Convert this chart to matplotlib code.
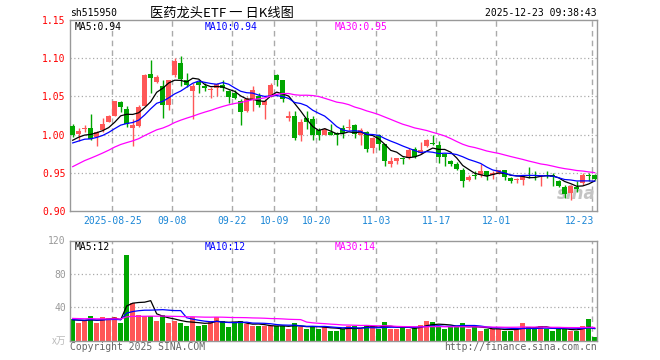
import numpy as np
import matplotlib.pyplot as plt

W, H = 660, 360

# --- data (one entry per trading day, 2025-08-14 .. 2025-12-23) ---
OPEN = [1.011, 1.001, 1.007, 1.008, 0.997, 1.006, 1.017, 1.024, 1.043, 1.034,
        1.008, 1.011, 1.037, 1.079, 1.069, 1.064, 1.039, 1.078, 1.094, 1.072,
        1.057, 1.069, 1.064, 1.058, 1.061, 1.065, 1.057, 1.055, 1.044, 1.031,
        1.045, 1.050, 1.039, 1.049, 1.078, 1.071, 1.022, 1.025, 1.000, 1.022,
        1.020, 1.006, 1.000, 1.004, 1.002, 1.008, 1.008, 1.013, 1.000, 1.004,
        0.983, 1.000, 0.988, 0.961, 0.966, 0.969, 0.969, 0.981, 0.976, 0.985,
        0.989, 0.987, 0.974, 0.966, 0.962, 0.954, 0.941, 0.947, 0.947, 0.952,
        0.947, 0.950, 0.954, 0.943, 0.940, 0.941, 0.947, 0.947, 0.946, 0.947,
        0.947, 0.939, 0.932, 0.923, 0.931, 0.937, 0.947, 0.947]
CLOSE = [1.000, 1.005, 1.009, 0.994, 1.004, 1.014, 1.025, 1.044, 1.036, 1.014,
         1.013, 1.036, 1.078, 1.074, 1.076, 1.039, 1.071, 1.096, 1.073, 1.065,
         1.064, 1.065, 1.061, 1.059, 1.066, 1.061, 1.049, 1.048, 1.029, 1.046,
         1.059, 1.039, 1.044, 1.065, 1.071, 1.047, 1.025, 0.995, 1.016, 1.017,
         1.000, 0.999, 1.007, 1.000, 0.999, 1.002, 1.010, 1.001, 1.006, 0.981,
         0.996, 0.988, 0.966, 0.966, 0.969, 0.968, 0.980, 0.971, 0.980, 0.993,
         0.988, 0.971, 0.971, 0.962, 0.955, 0.939, 0.945, 0.946, 0.952, 0.946,
         0.950, 0.954, 0.945, 0.939, 0.942, 0.946, 0.946, 0.946, 0.947, 0.946,
         0.945, 0.933, 0.922, 0.933, 0.929, 0.947, 0.946, 0.942]
HIGH = [1.014, 1.008, 1.013, 1.027, 1.005, 1.022, 1.026, 1.044, 1.044, 1.038,
        1.021, 1.039, 1.079, 1.097, 1.078, 1.071, 1.072, 1.100, 1.103, 1.080,
        1.067, 1.072, 1.068, 1.062, 1.068, 1.072, 1.059, 1.058, 1.046, 1.049,
        1.064, 1.054, 1.046, 1.067, 1.079, 1.072, 1.031, 1.031, 1.020, 1.031,
        1.024, 1.009, 1.009, 1.014, 1.003, 1.013, 1.020, 1.014, 1.008, 1.005,
        0.997, 1.001, 0.988, 0.971, 0.970, 0.971, 0.982, 0.984, 0.990, 0.994,
        1.000, 0.991, 0.976, 0.967, 0.964, 0.956, 0.947, 0.953, 0.961, 0.952,
        0.952, 0.954, 0.954, 0.944, 0.943, 0.947, 0.958, 0.952, 0.947, 0.953,
        0.950, 0.941, 0.934, 0.934, 0.939, 0.950, 0.950, 0.949]
LOW = [0.997, 0.992, 1.004, 0.993, 0.985, 1.003, 1.016, 1.024, 1.030, 1.010,
       0.985, 1.010, 1.037, 1.055, 1.068, 1.022, 1.032, 1.076, 1.064, 1.062,
       1.021, 1.054, 1.057, 1.048, 1.050, 1.057, 1.042, 1.046, 1.013, 1.029,
       1.031, 1.036, 1.020, 1.049, 1.064, 1.043, 1.018, 0.993, 0.992, 1.007,
       0.993, 0.993, 0.999, 0.999, 0.987, 0.995, 1.006, 0.996, 0.987, 0.977,
       0.976, 0.980, 0.959, 0.958, 0.962, 0.962, 0.968, 0.970, 0.975, 0.984,
       0.986, 0.963, 0.959, 0.959, 0.954, 0.932, 0.939, 0.942, 0.945, 0.940,
       0.942, 0.949, 0.940, 0.936, 0.936, 0.934, 0.943, 0.941, 0.933, 0.943,
       0.933, 0.932, 0.917, 0.915, 0.925, 0.934, 0.939, 0.941]
VOLUME = [25.6, 21, 24, 29.6, 21, 28, 27, 28, 21, 103,
          45, 31, 30, 30, 24, 31, 21, 23, 21, 17,
          28, 18, 19, 23, 28, 23, 16, 21, 24, 20,
          17, 17, 17, 18, 18, 18, 14, 21, 16, 14,
          18, 14, 18, 12, 12, 13.6, 17, 17, 13.6, 19,
          17, 14, 22, 13.6, 13.6, 16, 14, 16, 19, 24,
          22, 17, 14, 16, 17, 21, 14, 16, 12, 14,
          14, 14, 12, 12, 14, 21, 16, 14, 17, 14,
          12, 14, 14, 12, 12, 18, 26, 4]

# days before the window, only used to start the moving averages (estimated from the MA curves)
PRE_CLOSE = [0.885, 0.890, 0.900, 0.905, 0.910, 0.915, 0.920, 0.935, 0.940, 0.945,
             0.950, 0.955, 0.960, 0.965, 0.970, 0.975, 0.975, 0.980, 0.985, 0.990,
             0.980, 0.985, 0.990, 0.985, 0.988, 0.985, 0.995, 0.990, 0.993]
PRE_VOLUME = [27, 29, 26, 28, 30, 27, 25, 28, 27, 26, 29, 28, 26, 27, 25,
              28, 27, 26, 28, 27, 25, 26, 24, 25, 26, 24, 26, 25, 24]

TICK_IDX = [7, 17, 27, 34, 41, 51, 61, 71, 87]
TICK_LABELS = ['2025-08-25', '09-08', '09-22', '10-09', '10-20', '11-03', '11-17', '12-01', '12-23']
PRICE_TICKS = [0.90, 0.95, 1.00, 1.05, 1.10, 1.15]
VOL_TICKS = [40, 80, 120]
VOL_MA_LABELS = [12, 12, 14]

RED = '#ff5757'
GREEN = '#00a600'
GRID = '#aaaaaa'
MONO = 'DejaVu Sans Mono'
MA_COLORS = ['black', '#0000ff', '#ff00ff']


def moving_avg(pre, vals, n):
    full = np.array(pre + vals, dtype=float)
    out = np.convolve(full, np.ones(n) / n, mode='valid')
    return out[-len(vals):]


x = np.arange(len(CLOSE))
o = np.array(OPEN)
c = np.array(CLOSE)
up = c >= o
colors = [RED if u else GREEN for u in up]

fig = plt.figure(figsize=(W / 100, H / 100), dpi=100)
ax1 = fig.add_axes([70 / W, 1 - 211 / H, 527 / W, 191 / H])
ax2 = fig.add_axes([70 / W, 1 - 340.5 / H, 527 / W, 100 / H])

for ax in (ax1, ax2):
    ax.set_xlim(-0.45, 87.38)
    for s in ax.spines.values():
        s.set_color('#999999')
        s.set_linewidth(1)
    ax.tick_params(length=0, pad=3)
    ax.set_xticks([])
    for k in TICK_IDX:
        ax.axvline(k - 0.4, color=GRID, lw=1, ls=(0, (4, 3)), zorder=0)

# --- price panel ---
ax1.set_ylim(0.90, 1.15)
for v in PRICE_TICKS[1:-1]:
    ax1.axhline(v, color=GRID, lw=0.9, ls=(0, (1, 2)), zorder=0)
ax1.vlines(x, LOW, HIGH, colors=colors, lw=1, zorder=2)
body = np.maximum(np.abs(c - o), 0.0012)
ax1.bar(x, body, bottom=np.minimum(o, c), width=0.78, color=colors, lw=0, zorder=3)

ma_vals = []
for n, col in zip([5, 10, 30], MA_COLORS):
    m = moving_avg(PRE_CLOSE, CLOSE, n)
    ma_vals.append(m[-1])
    ax1.plot(x, m, color=col, lw=0.9, zorder=4)

ax1.set_yticks(PRICE_TICKS)
ax1.set_yticklabels([f'{v:.2f}' for v in PRICE_TICKS], color='red', fontsize=7, fontfamily=MONO)

for n, col, val, px in zip([5, 10, 30], MA_COLORS, ma_vals, [75, 205, 335]):
    fig.text(px / W, 1 - 27 / H, f'MA{n}:{val:.2f}', color=col, fontsize=7,
             fontfamily=MONO, va='center')

ax1.text(0.998, 0.04, 'sina', transform=ax1.transAxes, ha='right', va='bottom',
         fontsize=12, fontstyle='italic', fontweight='bold', color='#c4c4c4', zorder=1)

for k, lab in zip(TICK_IDX, TICK_LABELS):
    ha = 'right' if k == TICK_IDX[-1] else 'center'
    xx = k - 0.15 if ha == 'right' else k - 0.4
    ax1.text(xx, -0.052, lab, transform=ax1.get_xaxis_transform(), ha=ha, va='center',
             color='#1a86d6', fontsize=7, fontfamily=MONO)

# --- volume panel ---
ax2.set_ylim(0, 120)
for v in VOL_TICKS[:-1]:
    ax2.axhline(v, color=GRID, lw=0.9, ls=(0, (1, 2)), zorder=0)
ax2.bar(x, VOLUME, width=0.8, color=colors, lw=0, zorder=2)
for n, col in zip([5, 10, 30], MA_COLORS):
    ax2.plot(x, moving_avg(PRE_VOLUME, VOLUME, n), color=col, lw=0.9, zorder=3)
ax2.set_yticks(VOL_TICKS)
ax2.set_yticklabels([str(v) for v in VOL_TICKS], color='#999999', fontsize=7, fontfamily=MONO)

for n, col, val, px in zip([5, 10, 30], MA_COLORS, VOL_MA_LABELS, [75, 205, 335]):
    fig.text(px / W, 1 - 247 / H, f'MA{n}:{val}', color=col, fontsize=7,
             fontfamily=MONO, va='center')
fig.text(66 / W, 1 - 341 / H, 'x万', color='#bbbbbb', fontsize=7, ha='right', va='center',
         fontfamily=['Noto Sans CJK SC', 'DejaVu Sans'])

# --- header / footer ---
fig.text(70 / W, 1 - 13 / H, 'sh515950', fontsize=7, fontfamily=MONO, va='center')
fig.text(150 / W, 1 - 13 / H, '医药龙头ETF 一 日K线图', fontsize=9.5, va='center',
         fontfamily=['Noto Sans CJK SC', 'DejaVu Sans'])
fig.text(597 / W, 1 - 13 / H, '2025-12-23 09:38:43', fontsize=7, fontfamily=MONO,
         ha='right', va='center')
fig.text(70 / W, 1 - 347 / H, 'Copyright 2025 SINA.COM', fontsize=7, fontfamily=MONO,
         color='#666666', va='center')
fig.text(597 / W, 1 - 347 / H, 'http://finance.sina.com.cn', fontsize=7, fontfamily=MONO,
         color='#666666', ha='right', va='center')

fig.savefig('out.png', dpi=100)
